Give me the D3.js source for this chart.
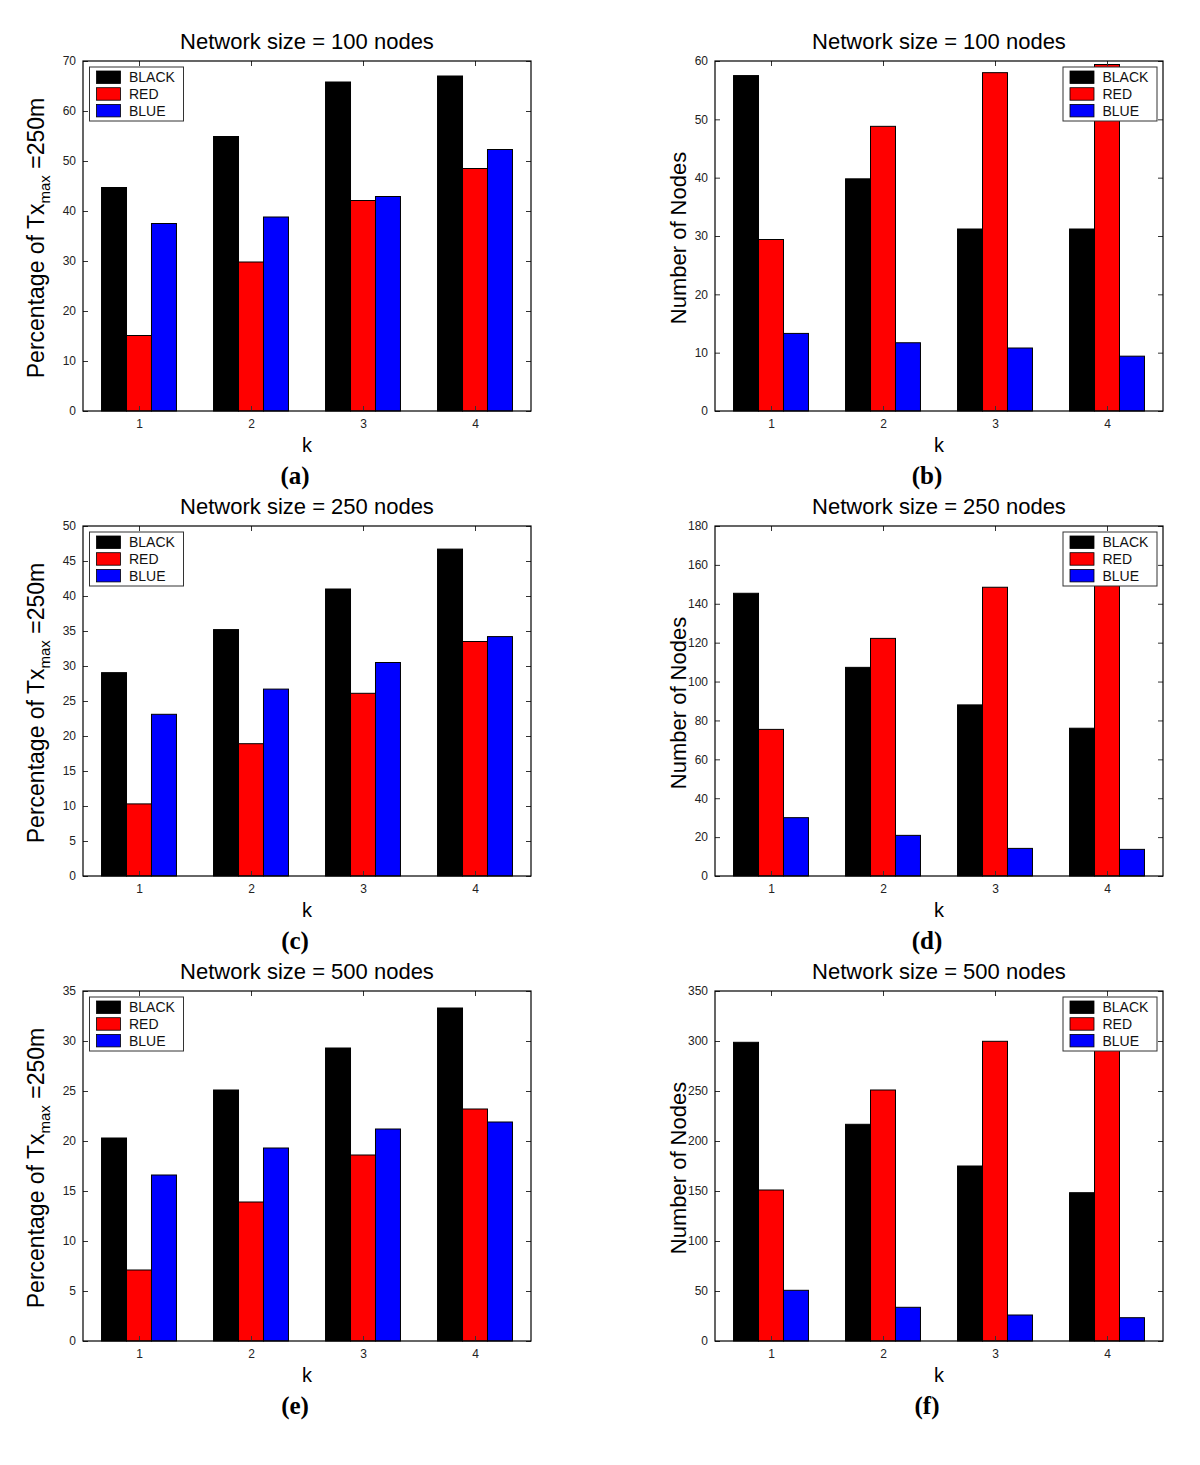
<!DOCTYPE html>
<html>
<head>
<meta charset="utf-8">
<script src="https://cdn.jsdelivr.net/npm/d3@7"></script>
<style>
  html, body { margin: 0; padding: 0; background: #fff; }
  svg { display: block; }
</style>
</head>
<body>
<div id="chart"></div>
<script>
// ---------------- DATA ----------------
const kValues = [1, 2, 3, 4];
const seriesNames = ["BLACK", "RED", "BLUE"];
const seriesColors = ["#000000", "#ff0000", "#0000ff"];

// (a) Network size = 100 nodes, percentage
const pct100Black = [44.7, 54.9, 65.8, 67.0];
const pct100Red   = [15.1, 29.8, 42.1, 48.5];
const pct100Blue  = [37.5, 38.8, 42.9, 52.3];
// (b) Network size = 100 nodes, number of nodes
const nodes100Black = [57.5, 39.8, 31.2, 31.2];
const nodes100Red   = [29.4, 48.8, 58.0, 59.4];
const nodes100Blue  = [13.3, 11.7, 10.8, 9.4];
// (c) Network size = 250 nodes, percentage
const pct250Black = [29.05, 35.2, 41.0, 46.7];
const pct250Red   = [10.3, 18.9, 26.1, 33.5];
const pct250Blue  = [23.1, 26.7, 30.5, 34.2];
// (d) Network size = 250 nodes, number of nodes
const nodes250Black = [145.4, 107.3, 88.0, 76.0];
const nodes250Red   = [75.4, 122.2, 148.5, 152.0];
const nodes250Blue  = [30.0, 20.9, 14.2, 13.7];
// (e) Network size = 500 nodes, percentage
const pct500Black = [20.3, 25.1, 29.3, 33.3];
const pct500Red   = [7.1, 13.9, 18.6, 23.2];
const pct500Blue  = [16.6, 19.3, 21.2, 21.9];
// (f) Network size = 500 nodes, number of nodes
const nodes500Black = [298.7, 216.7, 175.0, 148.3];
const nodes500Red   = [151.0, 251.0, 299.7, 302.0];
const nodes500Blue  = [50.7, 33.7, 26.0, 23.3];

const panelTitles = ["Network size = 100 nodes", "Network size = 100 nodes",
                     "Network size = 250 nodes", "Network size = 250 nodes",
                     "Network size = 500 nodes", "Network size = 500 nodes"];
const panelLetters = ["(a)", "(b)", "(c)", "(d)", "(e)", "(f)"];
const yMaxes  = [70, 60, 50, 180, 35, 350];
const ySteps  = [10, 10, 5, 20, 5, 50];
const xLabel = "k";
const yLabelNodes = "Number of Nodes";

// ---------------- LAYOUT ----------------
const W = 1200, H = 1465;
const boxW = 448, boxH = 350;
const colX = [83, 715];
const rowY = [61, 526, 991];
const barW = 0.223;             // bar width in k units
const offsets = [-barW, 0, barW];

const panels = [
  { series: [pct100Black, pct100Red, pct100Blue], kind: "pct" },
  { series: [nodes100Black, nodes100Red, nodes100Blue], kind: "nodes" },
  { series: [pct250Black, pct250Red, pct250Blue], kind: "pct" },
  { series: [nodes250Black, nodes250Red, nodes250Blue], kind: "nodes" },
  { series: [pct500Black, pct500Red, pct500Blue], kind: "pct" },
  { series: [nodes500Black, nodes500Red, nodes500Blue], kind: "nodes" }
];

const svg = d3.select("#chart").append("svg")
  .attr("width", W).attr("height", H)
  .attr("viewBox", `0 0 ${W} ${H}`);

svg.append("rect").attr("width", W).attr("height", H).attr("fill", "#fff");

const sans = "'Liberation Sans', Arial, sans-serif";
const serif = "'Liberation Serif', 'Times New Roman', serif";

panels.forEach((p, i) => {
  const col = i % 2, row = Math.floor(i / 2);
  const x0 = colX[col], y0 = rowY[row];
  const g = svg.append("g");

  const x = d3.scaleLinear().domain([0.5, 4.5]).range([x0, x0 + boxW]);
  const y = d3.scaleLinear().domain([0, yMaxes[i]]).range([y0 + boxH, y0]);
  const ticks = d3.range(0, yMaxes[i] + ySteps[i] / 2, ySteps[i]);

  // bars
  p.series.forEach((vals, s) => {
    g.append("g").selectAll("rect").data(vals).join("rect")
      .attr("x", (d, j) => x(kValues[j] + offsets[s] - barW / 2))
      .attr("y", d => y(d))
      .attr("width", (d, j) => x(kValues[j] + offsets[s] + barW / 2) - x(kValues[j] + offsets[s] - barW / 2))
      .attr("height", d => y(0) - y(d))
      .attr("fill", seriesColors[s])
      .attr("stroke", "#000")
      .attr("stroke-width", 1);
  });

  // axes
  const styleAxis = (sel) => {
    sel.select(".domain").remove();
    sel.selectAll(".tick line").attr("stroke", "#333");
    sel.selectAll(".tick text").attr("fill", "#222")
      .style("font-family", sans).style("font-size", "12px");
  };
  g.append("g").attr("transform", `translate(0,${y0 + boxH})`)
    .call(d3.axisBottom(x).tickValues(kValues).tickFormat(d3.format("d")).tickSize(-5).tickPadding(8))
    .call(styleAxis);
  g.append("g").attr("transform", `translate(0,${y0})`)
    .call(d3.axisTop(x).tickValues(kValues).tickFormat("").tickSize(-5))
    .call(styleAxis);
  g.append("g").attr("transform", `translate(${x0},0)`)
    .call(d3.axisLeft(y).tickValues(ticks).tickFormat(d3.format("d")).tickSize(-5).tickPadding(7))
    .call(styleAxis);
  g.append("g").attr("transform", `translate(${x0 + boxW},0)`)
    .call(d3.axisRight(y).tickValues(ticks).tickFormat("").tickSize(-5))
    .call(styleAxis);

  // box
  g.append("rect").attr("x", x0).attr("y", y0).attr("width", boxW).attr("height", boxH)
    .attr("fill", "none").attr("stroke", "#000").attr("stroke-width", 1.2);

  // legend
  const lw = 94, lh = 54;
  const lx = col === 0 ? x0 + 6.5 : x0 + boxW - 6 - lw;
  const ly = y0 + 6;
  const lg = g.append("g").attr("transform", `translate(${lx},${ly})`);
  lg.append("rect").attr("width", lw).attr("height", lh)
    .attr("fill", "#fff").attr("stroke", "#333").attr("stroke-width", 1);
  seriesNames.forEach((name, s) => {
    const ry = 4 + s * 16.7;
    lg.append("rect").attr("x", 7).attr("y", ry).attr("width", 24).attr("height", 12.5)
      .attr("fill", seriesColors[s]).attr("stroke", "#000").attr("stroke-width", 0.8);
    lg.append("text").attr("x", 39.5).attr("y", ry + 11.3)
      .attr("fill", "#111").style("font-family", sans).style("font-size", "14px")
      .text(name);
  });

  // title
  g.append("text").attr("x", x0 + boxW / 2).attr("y", y0 - 12)
    .attr("text-anchor", "middle").attr("fill", "#000")
    .style("font-family", sans).style("font-size", "22px")
    .text(panelTitles[i]);

  // x label
  g.append("text").attr("x", x0 + boxW / 2).attr("y", y0 + boxH + 41)
    .attr("text-anchor", "middle").attr("fill", "#000")
    .style("font-family", sans).style("font-size", "20px")
    .text(xLabel);

  // panel letter
  g.append("text").attr("x", x0 + boxW / 2 - 12).attr("y", y0 + boxH + 73)
    .attr("text-anchor", "middle").attr("fill", "#000")
    .style("font-family", serif).style("font-size", "25px").style("font-weight", "bold")
    .text(panelLetters[i]);

  // y label
  const cy = y0 + boxH / 2 + 2;
  if (p.kind === "pct") {
    const t = g.append("text")
      .attr("transform", `translate(${x0 - 39},${cy}) rotate(-90)`)
      .attr("text-anchor", "middle").attr("fill", "#000")
      .style("font-family", sans).style("font-size", "23px");
    t.append("tspan").text("Percentage of Tx");
    t.append("tspan").attr("dy", 6).style("font-size", "15px").text("max");
    t.append("tspan").attr("dy", -6).text("\u00a0=250m");
  } else {
    g.append("text")
      .attr("transform", `translate(${x0 - 29},${cy}) rotate(-90)`)
      .attr("text-anchor", "middle").attr("fill", "#000")
      .style("font-family", sans).style("font-size", "22px")
      .text(yLabelNodes);
  }
});
</script>
</body>
</html>
